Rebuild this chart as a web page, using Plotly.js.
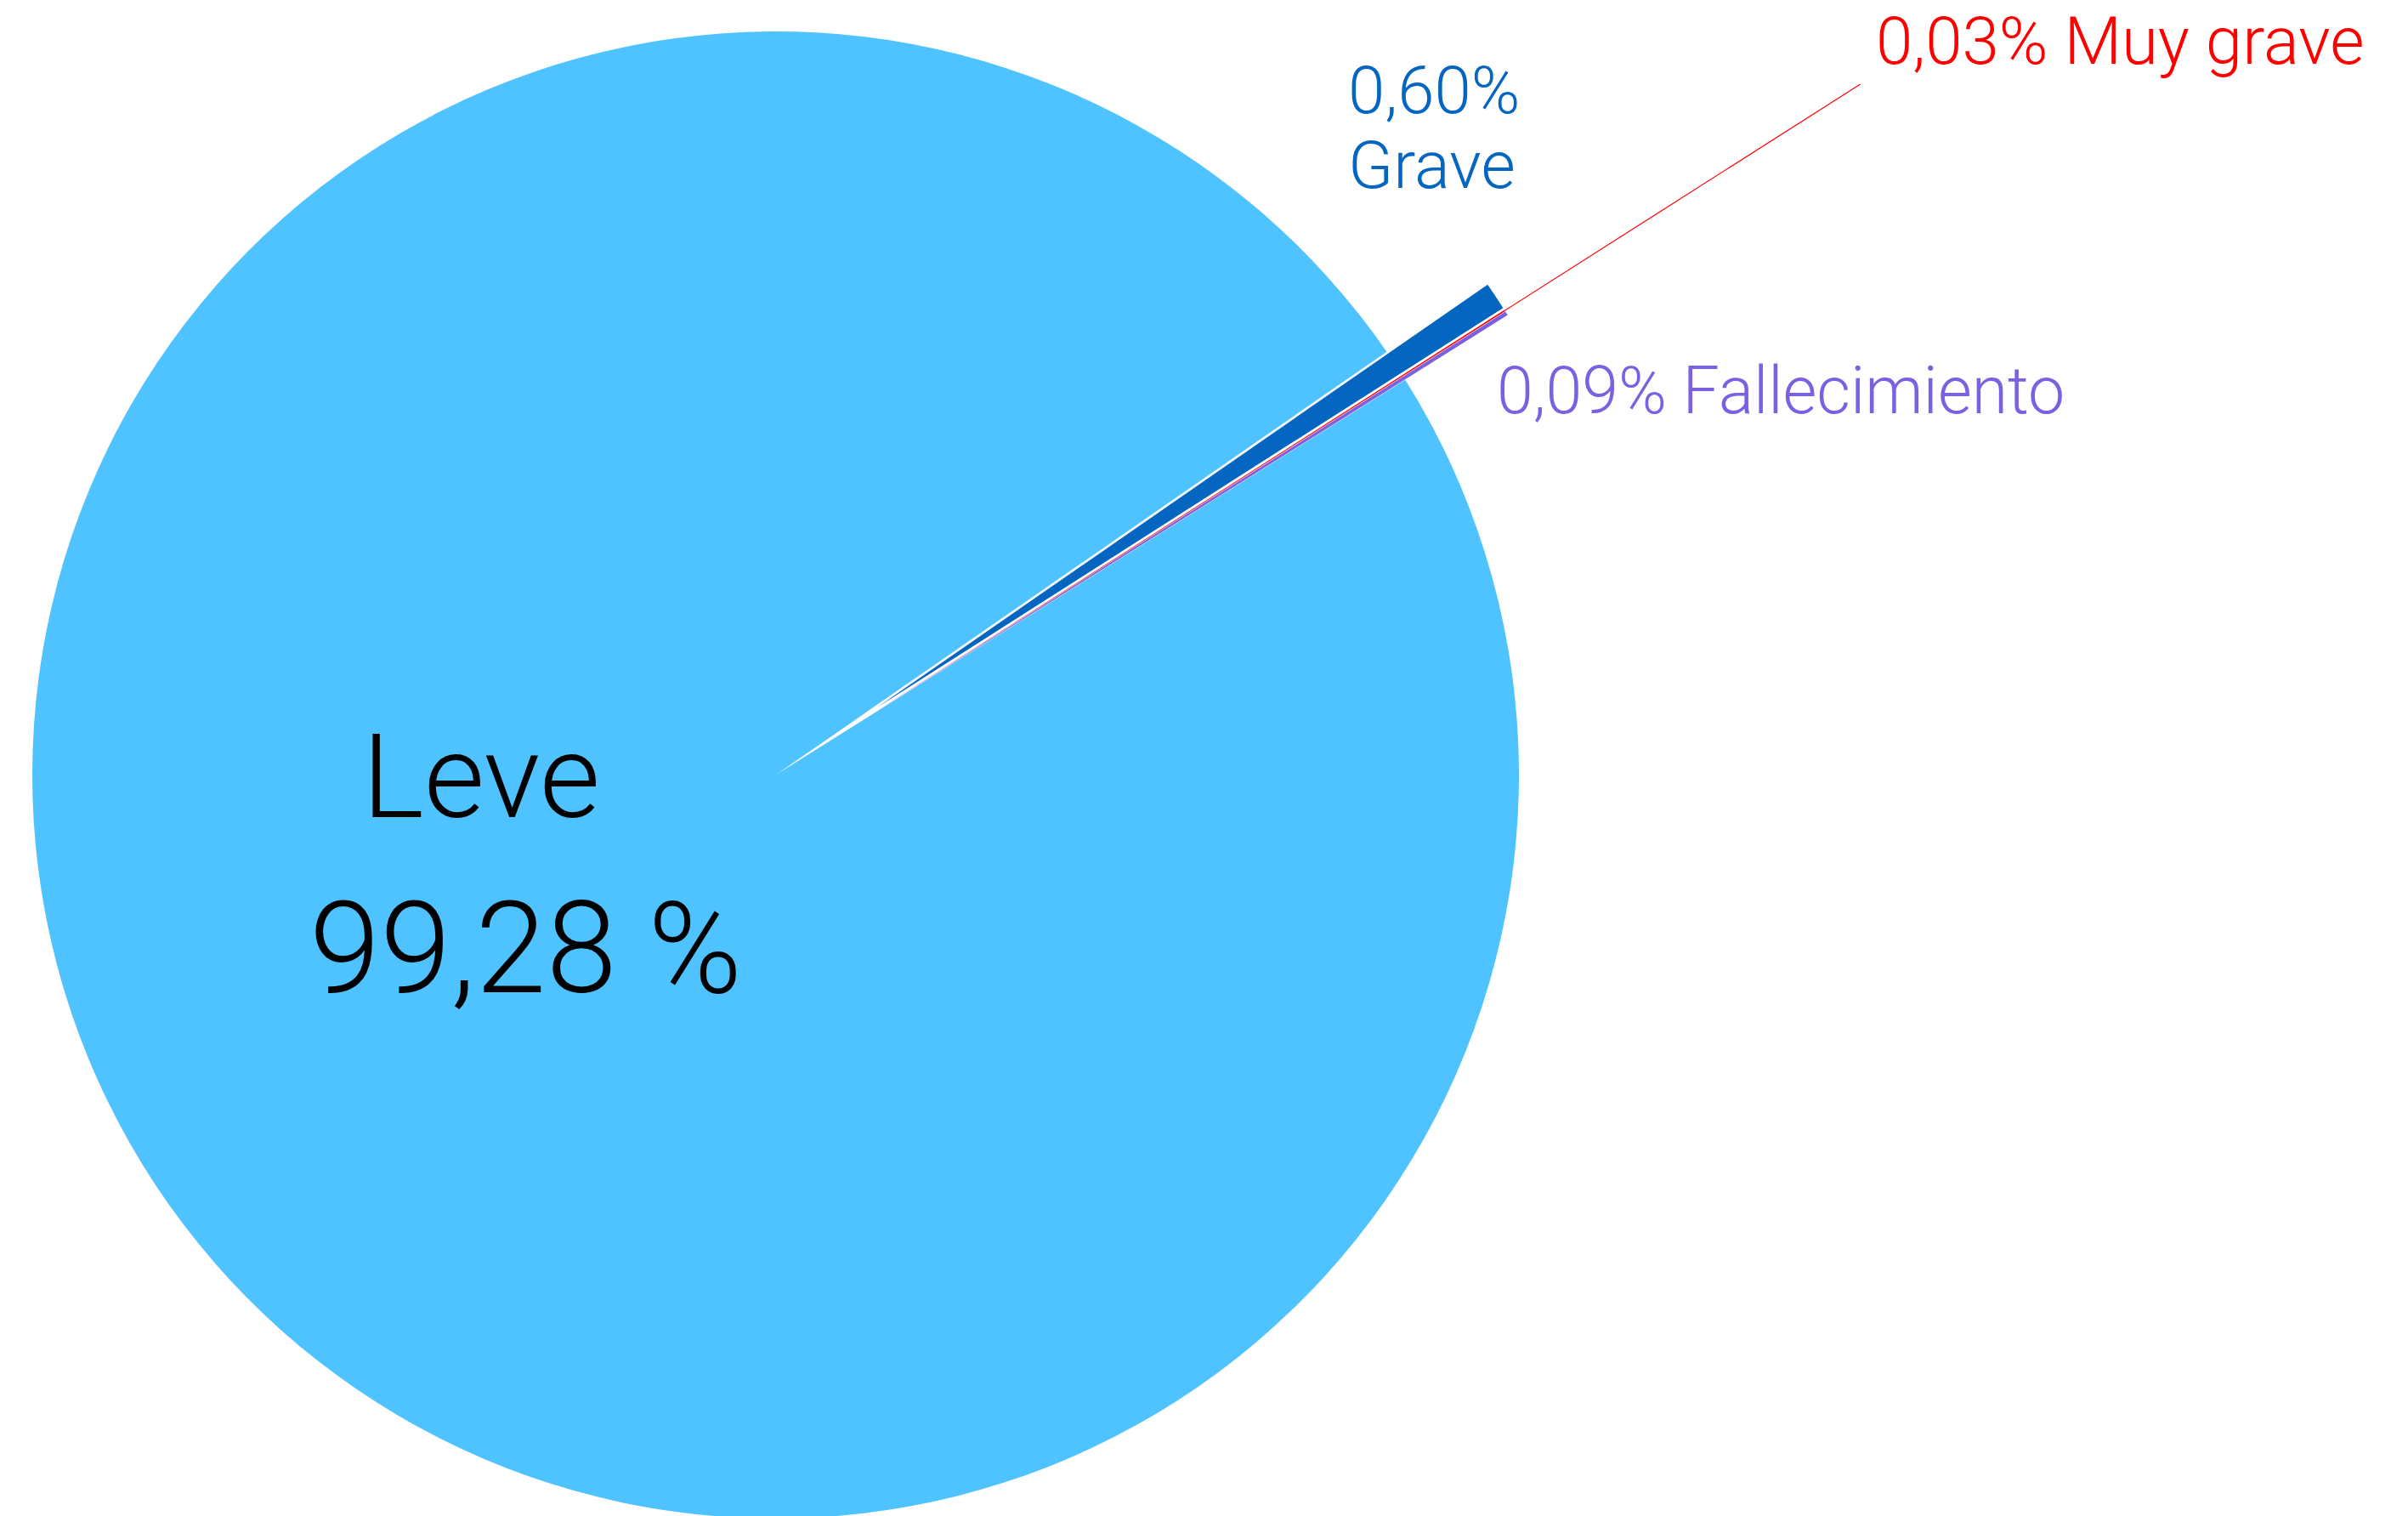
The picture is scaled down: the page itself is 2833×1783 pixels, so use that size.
<!DOCTYPE html>
<html>
<head>
<meta charset="utf-8">
<script src="https://cdn.plot.ly/plotly-3.0.1.min.js"></script>
<style>
  html, body { margin: 0; padding: 0; background: #ffffff; overflow: hidden; }
  #wrap { position: relative; width: 2833px; height: 1783px; overflow: hidden; background: #ffffff; }
  #plot { position: absolute; left: -150px; top: -150px; width: 2983px; height: 2100px; }
</style>
</head>
<body>
<div id="wrap"><div id="plot"></div></div>
<script>
// ---- data ----
const labels = ['Grave', 'Muy grave', 'Fallecimiento', 'Leve'];
const values = [0.60, 0.03, 0.09, 99.28];
const colors = ['#0466C0', '#FF0000', '#7B61E2', '#4FC3FF'];

// ---- geometry / style ----
const OFF = 150, W = 2833 + OFF, H = 2100;
const CX = 912.5 + OFF, CY = 911.5 + OFF, R = 874.5;
const ROT = 55.3, PULL = 0.163;
const FONT = 'Roboto, Liberation Sans, Arial, sans-serif';
const WEIGHT = 300;
const TRANSP = 'rgba(0,0,0,0)';

function dom(half) {
  return { x: [(CX - half) / W, (CX + half) / W], y: [1 - (CY + half) / H, 1 - (CY - half) / H] };
}
const fmt = v => v.toFixed(2).replace('.', ',');
const iLeve = labels.indexOf('Leve');
const total = values.reduce((a, b) => a + b, 0);

const base = {
  type: 'pie', labels: labels, values: values, sort: false,
  direction: 'clockwise', rotation: ROT, textinfo: 'none', hoverinfo: 'skip',
  showlegend: false
};
const traceMain = Object.assign({}, base, {
  domain: dom(R),
  marker: { colors: colors.map((c, i) => i === iLeve ? c : TRANSP), line: { width: 0 } }
});
const traceSmall = Object.assign({}, base, {
  domain: dom(R * (1 + PULL)),
  pull: labels.map((l, i) => i === iLeve ? 0 : PULL),
  marker: { colors: colors.map((c, i) => i === iLeve ? TRANSP : c), line: { width: 0 } }
});

// leader line for "Muy grave" along its mid angle
const iMuy = labels.indexOf('Muy grave');
let cum = 0;
for (let i = 0; i < iMuy; i++) cum += values[i];
const th = (ROT + (cum + values[iMuy] / 2) / total * 360) * Math.PI / 180;
const pt = r => [(CX + r * Math.sin(th)) / W, 1 - (CY - r * Math.cos(th)) / H];
const p1 = pt(R * (1 + PULL)), p2 = pt(R * 1.73);

const px = x => (x + OFF) / W;
const py = y => 1 - (y + OFF) / H;
function ann(text, x, y, size, color, xanchor) {
  return { text: text, x: px(x), y: py(y), xref: 'paper', yref: 'paper', showarrow: false,
           xanchor: xanchor, yanchor: 'middle',
           font: { family: FONT, size: size, color: color, weight: WEIGHT } };
}
const iGr = labels.indexOf('Grave'), iFa = labels.indexOf('Fallecimiento');
const annotations = [
  ann(labels[iLeve], 566, 914, 138, '#000000', 'center'),
  ann(fmt(values[iLeve]) + ' %', 618, 1116, 150, '#000000', 'center'),
  ann(fmt(values[iGr]) + '%', 1584, 106, 78, colors[iGr], 'left'),
  ann(labels[iGr], 1584, 195, 78, colors[iGr], 'left'),
  ann(fmt(values[iMuy]) + '% ' + labels[iMuy], 2205, 49, 78, colors[iMuy], 'left'),
  ann(fmt(values[iFa]) + '% ' + labels[iFa], 1759, 460, 77, colors[iFa], 'left')
];

const layout = {
  width: W, height: H, margin: { l: 0, r: 0, t: 0, b: 0 },
  paper_bgcolor: '#ffffff', plot_bgcolor: '#ffffff', showlegend: false,
  annotations: annotations,
  shapes: [{ type: 'line', xref: 'paper', yref: 'paper', x0: p1[0], y0: p1[1], x1: p2[0], y1: p2[1],
             line: { color: colors[iMuy], width: 1.2 } }]
};
Plotly.newPlot('plot', [traceMain, traceSmall], layout, { displayModeBar: false, staticPlot: true });
</script>
</body>
</html>
